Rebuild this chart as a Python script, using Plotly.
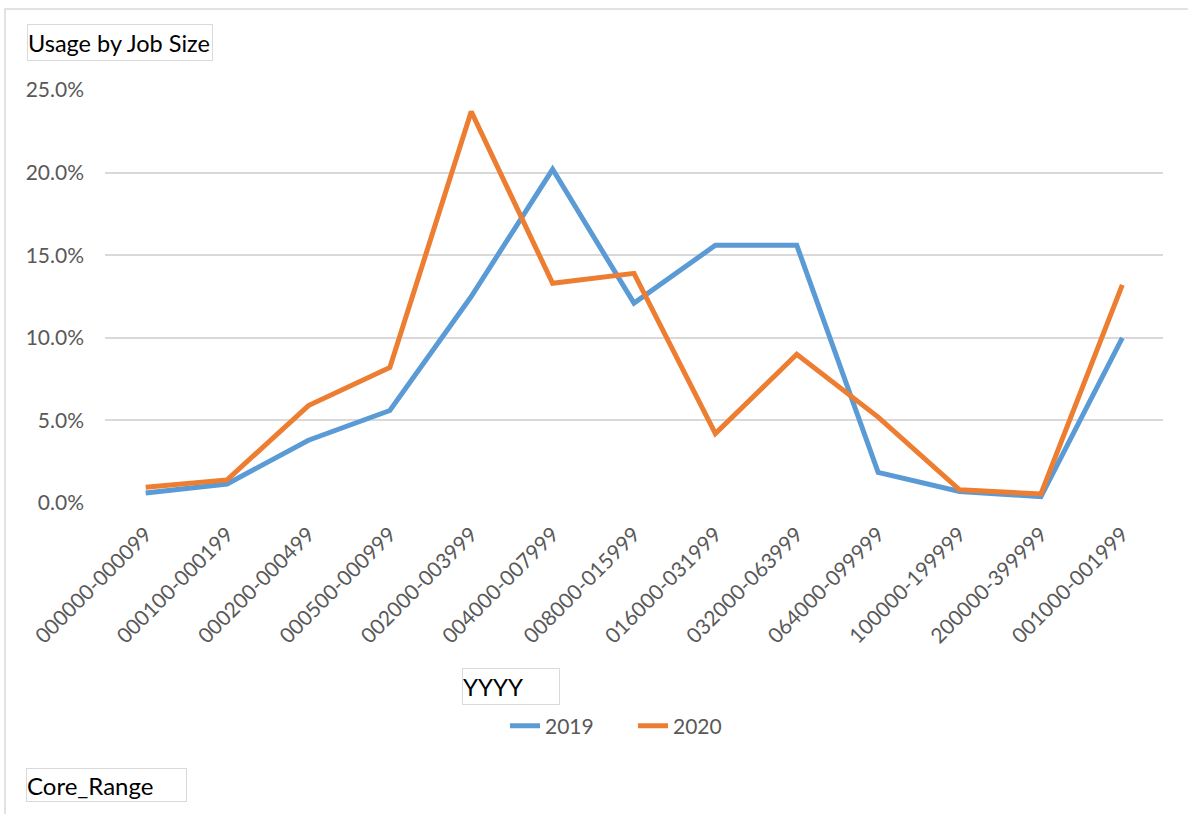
import plotly.graph_objects as go

categories = ["000000-000099", "000100-000199", "000200-000499", "000500-000999",
              "002000-003999", "004000-007999", "008000-015999", "016000-031999",
              "032000-063999", "064000-099999", "100000-199999", "200000-399999",
              "001000-001999"]
usage_2019 = [0.006, 0.0115, 0.038, 0.056, 0.125, 0.202, 0.121, 0.156,
              0.156, 0.0185, 0.007, 0.0038, 0.100]
usage_2020 = [0.0095, 0.014, 0.059, 0.082, 0.237, 0.133, 0.139, 0.042,
              0.090, 0.052, 0.008, 0.0055, 0.132]
series_names = ["2019", "2020"]

W, H = 1188, 814
L, R, T, B = 105, 25, 90, 311
pw, ph = W - L - R, H - T - B

def px(x):
    return (x - L) / pw

def py(y):
    return (H - B - y) / ph

FONT = "Lato"
fig = go.Figure()
fig.add_trace(go.Scatter(x=categories, y=usage_2019, name=series_names[0], mode="lines",
                         line=dict(color="#5B9BD5", width=5)))
fig.add_trace(go.Scatter(x=categories, y=usage_2020, name=series_names[1], mode="lines",
                         line=dict(color="#ED7D31", width=5)))

fig.update_layout(
    width=W, height=H,
    margin=dict(l=L, r=R, t=T, b=B),
    paper_bgcolor="white", plot_bgcolor="white",
    font=dict(family=FONT, size=21, color="#595959"),
    showlegend=True,
    legend=dict(orientation="h", x=px(505), y=py(726), xanchor="left", yanchor="middle",
                font=dict(size=21, color="#595959"), entrywidth=83, entrywidthmode="pixels"),
    xaxis=dict(type="category", range=[-0.5, 12.5], tickangle=-45, showgrid=False,
               showline=False, zeroline=False, ticks="", ticklabelstandoff=14,
               tickfont=dict(size=21, color="#595959")),
    yaxis=dict(range=[0, 0.25], dtick=0.05, tickformat=".1%", showgrid=True,
               gridcolor="#D9D9D9", gridwidth=1.5, zeroline=False, showline=False,
               ticks="", ticklabelstandoff=20, tickfont=dict(size=21, color="#595959")),
)

def box(text, x0, y0, x1, y1, size=24):
    fig.add_annotation(xref="paper", yref="paper", x=px(x0), y=py(y0),
                       xanchor="left", yanchor="top", text=text, showarrow=False,
                       width=x1 - x0 - 2, height=y1 - y0 - 2, align="left", valign="middle",
                       bordercolor="#D9D9D9", borderwidth=1, borderpad=0,
                       font=dict(family=FONT, size=size, color="#000000"))

box("Usage by Job Size", 27, 24, 213, 61, size=23.5)
box("YYYY", 462, 668, 560, 705)
box("Core_Range", 26, 768, 187, 802)

# outer chart frame
fig.add_shape(type="rect", xref="paper", yref="paper", x0=px(5), y0=py(9), x1=px(1200), y1=py(840),
              line=dict(color="#D9D9D9", width=1.5), fillcolor="rgba(0,0,0,0)", layer="below")

fig.write_html("out.html", config={"displayModeBar": False},
               post_script="document.body.style.margin='0';")
